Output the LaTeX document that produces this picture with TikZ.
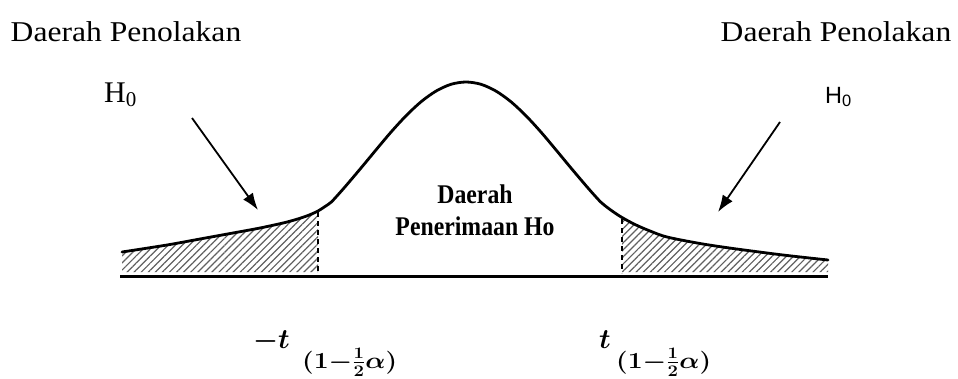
\documentclass[tikz,border=0pt]{standalone}
\usepackage{fix-cm}
\usepackage{amsmath}
\usepackage{fontspec}
\setmainfont{Liberation Serif}
\newfontfamily\sansf{Liberation Sans}
\usetikzlibrary{arrows.meta,patterns.meta}
\tikzset{
  curve/.style={line width=2.8pt, black, line cap=round, line join=round},
  axisline/.style={line width=3pt, black},
  cutline/.style={line width=2.6pt, black, dash pattern=on 5pt off 4pt},
  hatch/.style={pattern={Lines[angle=45,distance=5pt,line width=1.2pt]}, pattern color=gray!75!black},
  pointer/.style={line width=1.8pt, black, -{Latex[length=17pt,width=12pt]}},
  headlbl/.style={font=\fontsize{28.7}{30}\selectfont, anchor=base, inner sep=0pt},
  acclbl/.style={font=\fontsize{27}{30}\selectfont\bfseries, anchor=base, inner sep=0pt},
  tlbl/.style={font=\fontsize{28}{30}\selectfont\boldmath, anchor=base west, inner sep=0pt},
  sublbl/.style={font=\fontsize{23}{25}\selectfont\boldmath, anchor=base west, inner sep=0pt}
}
\newcommand{\critsub}{\scalebox{1.15}[1]{$(1{-}\frac{1}{2}\alpha)$}}
\begin{document}
\begin{tikzpicture}[x=1pt,y=-1pt]
\useasboundingbox (0,0) rectangle (958,378);
\def\curvepts{(122,252) (167,245) (200,239) (233,233) (260,228) (283,223) (296,219.5) (308,215.5) (318,211) (325,206.5) (331,202.3) (338,194.8) (346,185.7) (361,168) (376,149.9) (391,132.1) (406,115.8) (421,101.8) (436,91.1) (451,84.3) (466,82) (481,84.3) (496,91.1) (511,101.8) (526,115.8) (541,132.1) (556,149.9) (571,168) (586,185.7) (594,194.8) (601,202.3) (608,208) (615,213) (622,217.5) (635,224.5) (650,231) (667,237) (700,243.5) (733,248.5) (783,255) (828,260)}
% hatched tails
\begin{scope}
  \clip plot[smooth,tension=0.5] coordinates {\curvepts} -- (828,272) -- (122,272) -- cycle;
  \fill[hatch] (118,272) rectangle (318,200);
  \fill[hatch] (622,272) rectangle (832,200);
\end{scope}
% curve
\draw[curve] plot[smooth,tension=0.5] coordinates {\curvepts};
% axis
\coordinate (axl) at (120,276);
\coordinate (axr) at (828,276);
\draw[axisline] (axl) -- (axr);
% critical lines
\coordinate (cl1) at (318,212);
\coordinate (cl0) at (318,273);
\coordinate (cr1) at (622,219);
\coordinate (cr0) at (622,273);
\draw[cutline] (cl1) -- (cl0);
\draw[cutline] (cr1) -- (cr0);
% labels top
\node[headlbl] (penl) at (126,41) {\scalebox{1.1}[1]{Daerah Penolakan}};
\node[headlbl] (penr) at (836,41) {\scalebox{1.1}[1]{Daerah Penolakan}};
\node[font=\fontsize{30}{32}\selectfont, anchor=base west, inner sep=0pt] (h0l) at (104,102) {H\textsubscript{0}};
\node[font=\fontsize{23.5}{25}\selectfont\sansf, anchor=base west, inner sep=0pt] (h0r) at (825,103) {H\textsubscript{0}};
% arrows
\coordinate (al0) at (192,118);
\coordinate (al1) at (258,210);
\coordinate (ar0) at (780,122);
\coordinate (ar1) at (718,212);
\draw[pointer] (al0) -- (al1);
\draw[pointer] (ar0) -- (ar1);
% acceptance region
\node[acclbl] (acc1) at (475,203) {\scalebox{0.88}[1]{Daerah}};
\node[acclbl] (acc2) at (475,235) {\scalebox{0.88}[1]{Penerimaan Ho}};
% critical values
\node[tlbl] (tl) at (253,348) {$-t$};
\node[sublbl] (sl) at (302,368) {\critsub};
\node[tlbl] (tr) at (599,348) {$t$};
\node[sublbl] (sr) at (616,368) {\critsub};
\end{tikzpicture}
\end{document}
